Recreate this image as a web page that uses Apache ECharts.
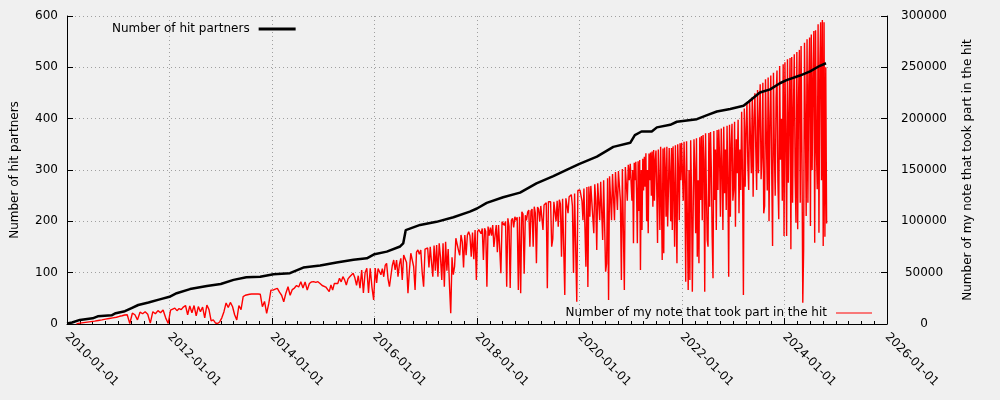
<!DOCTYPE html>
<html>
<head>
<meta charset="utf-8">
<script src="https://cdn.jsdelivr.net/npm/echarts@6/dist/echarts.min.js"></script>
<style>
html,body{margin:0;padding:0;background:#f0f0f0;}
#chart{width:1000px;height:400px;}
</style>
</head>
<body>
<div id="chart"></div>
<script>
// ---- data ----
const xTickYears = [2010, 2012, 2014, 2016, 2018, 2020, 2022, 2024, 2026];
const leftName = 'Number of hit partners';
const rightName = 'Number of my note that took part in the hit';

// cumulative hit partners (decimal year, value)
const partnerYears = [2010.0, 2010.1, 2010.25, 2010.5, 2010.6, 2010.87, 2010.95, 2011.13, 2011.26, 2011.39, 2011.59, 2011.81, 2012.0, 2012.14, 2012.4, 2012.73, 2013.0, 2013.25, 2013.5, 2013.77, 2014.03, 2014.35, 2014.61, 2014.94, 2015.26, 2015.59, 2015.85, 2016.0, 2016.24, 2016.5, 2016.56, 2016.61, 2016.64, 2016.89, 2017.21, 2017.54, 2017.86, 2018.0, 2018.19, 2018.51, 2018.84, 2019.16, 2019.49, 2019.81, 2020.0, 2020.34, 2020.66, 2020.99, 2021.08, 2021.21, 2021.41, 2021.51, 2021.77, 2021.9, 2022.29, 2022.49, 2022.68, 2022.94, 2023.2, 2023.3, 2023.52, 2023.72, 2023.91, 2024.04, 2024.3, 2024.5, 2024.69, 2024.81];
const partnerValues = [1, 3, 8, 11, 15, 17, 21, 25, 31, 37, 42, 48, 53, 60, 68, 74, 78, 86, 91, 92, 97, 99, 110, 114, 120, 125, 128, 136, 141, 151, 157, 183, 186, 193, 199, 208, 219, 225, 236, 247, 256, 274, 288, 303, 312, 326, 345, 353, 368, 375, 375, 383, 388, 394, 399, 407, 414, 419, 425, 433, 451, 457, 469, 475, 484, 492, 503, 508];

// notes that took part in the hit, per year (samples spread over each period)
const red2010 = [300, 800, 1300, 1800, 2300, 2800, 3400, 4000, 4700, 5400, 6000, 6600];
const red2011 = [7500, 8000, 8800, 9000, 500, 10500, 9000, 4000, 11500, 10000, 12000, 9500, 800, 12000, 10000, 13000, 11000, 13600, 6000, 500];
const red2012 = [13500, 14500, 15500, 13000, 15000, 14000, 16500, 18000, 9000, 17500, 11000, 18000, 8000, 17000, 12000, 16500, 6000, 18500, 14000, 3000, 4000, 1000, 500, 2000];
const red2013 = [6000, 12000, 20500, 16000, 21000, 17000, 9000, 4000, 18000, 14000, 26600, 28000, 28500, 29000, 29200, 29200, 29200, 29200, 29000, 16800, 22000, 10400, 20000, 33000];
const red2014 = [33000, 34000, 34700, 31000, 28000, 21700, 30000, 36300, 28000, 33500, 35000, 37500, 36000, 41200, 35000, 41000, 33000, 39500, 41000, 41200, 40500, 41200, 39500, 37500];
const red2015 = [38000, 36000, 34800, 31500, 38000, 33000, 39500, 41000, 39500, 44500, 41000, 46100, 43000, 38000, 44000, 46000, 47500, 49400, 45000, 37600, 47000, 34800, 52600, 30200, 50000, 54200, 30200, 54200, 36000, 23400];
const red2016 = [54500, 40000, 54000, 54500, 48000, 54000, 46000, 57000, 59100, 44000, 36300, 38000, 57000, 62300, 52600, 62300, 46100, 58000, 64000, 42900, 67200, 65500, 60000, 29900, 52000, 68900, 67000, 56000, 33100, 70000, 72100, 68000, 72000, 50000, 36300, 73000];
const red2017 = [73000, 74000, 55000, 75300, 60000, 46100, 76500, 52000, 77000, 46100, 78600, 65000, 43000, 78600, 36300, 80200, 52000, 73000, 38000, 10400, 65000, 48000, 56000, 83500, 85000, 72000, 67000, 86700, 80000, 55000, 86700, 67000, 86700, 89900, 86000, 65500, 89000, 63000, 91600, 42900];
const red2018 = [90000, 92000, 93200, 88000, 93000, 62300, 93200, 90000, 36300, 95000, 86000, 94000, 86000, 96400, 75000, 86000, 96400, 70000, 96400, 98000, 49400, 99700, 101000, 96000, 100000, 36300, 103000, 95000, 35000, 101000, 103000, 94000, 104500, 101000, 104000, 33100, 104500, 29900, 109400, 107000, 49000, 106000, 101000, 109000];
const red2019 = [111000, 75300, 110000, 112000, 75300, 114300, 108000, 59100, 114000, 112000, 100000, 115000, 115900, 91600, 116000, 117000, 118000, 34800, 119100, 118000, 119100, 75300, 83000, 119000, 120000, 100000, 120000, 94800, 121000, 117000, 65500, 122000, 122000, 28200, 122500, 121000, 108000, 124000, 125600, 126000, 115000, 49700, 127000, 128500, 21700, 130000, 129000];
const red2020 = [130500, 131000, 120000, 101000, 132000, 133000, 55800, 133500, 36000, 134000, 104500, 134500, 135000, 135400, 88500, 136000, 120000, 72000, 137000, 137500, 101000, 138600, 138000, 81800, 140000, 141000, 51000, 59100, 142000, 23400, 144000, 145000, 101000, 146000, 146800, 101000, 148000, 147000, 111000, 149000, 150000, 120000, 42900, 151000, 152000, 33100, 153000, 154000, 120000, 155000, 140000, 156000];
const red2021 = [156500, 120000, 150000, 78600, 157000, 140000, 158000, 127300, 78600, 158500, 110000, 159700, 52600, 150000, 91600, 161000, 130000, 163000, 133700, 166300, 100000, 150000, 88300, 166000, 140000, 167000, 125000, 168000, 114300, 169500, 120000, 160000, 169000, 130000, 79000, 170000, 140000, 91600, 172700, 120000, 62300, 171000, 68900, 172000, 150000, 104500, 172700, 95000, 130000, 171500, 145000, 100000, 171400, 91600, 173000, 130000, 75300, 174000, 110000, 59100, 175000, 150000, 101000, 176000, 140000, 176500];
const red2022 = [176500, 120000, 177600, 140000, 41200, 178000, 100000, 33100, 150000, 42900, 179000, 130000, 31500, 29900, 180000, 150000, 88300, 181000, 65500, 140000, 59100, 182000, 120800, 183000, 101000, 184000, 160000, 31500, 185700, 130000, 81800, 75300, 186000, 114300, 187000, 150000, 85000, 44500, 188000, 120800, 170000, 91600, 189000, 130500, 189500, 160000, 104500, 190500, 150000, 91600, 192200, 127300, 170000, 111000, 193000, 140000, 46100, 194000, 104500, 175000, 195000, 120000];
const red2023 = [130500, 197000, 94800, 180000, 146800, 199000, 107800, 170000, 130500, 206800, 143500, 28200, 210000, 133700, 190000, 215000, 156500, 130500, 218000, 180000, 146800, 221000, 124000, 200000, 224700, 170000, 130500, 228000, 146800, 200000, 233500, 141000, 163000, 235000, 107800, 115000, 238300, 180000, 130000, 240000, 100000, 200000, 242000, 150000, 76000, 244800, 170000, 125000, 220000, 247000, 140000, 102000, 251300, 160000, 200000, 120000, 253000, 85700];
const red2024 = [255000, 180000, 85700, 257800, 137600, 200000, 259000, 72800, 260000, 118100, 210000, 262700, 144000, 98700, 265000, 92200, 220000, 267000, 118100, 270800, 166900, 20800, 72800, 274000, 200000, 105200, 277300, 118100, 230000, 279000, 95400, 282000, 150000, 240000, 285400, 79200, 286000, 170100, 131200, 291900, 88900, 250000, 294000, 140000, 296100, 76000, 294000, 85000, 250000, 98000];
const redPeriods = [
  [2010.15, 2011, red2010], [2011, 2012, red2011], [2012, 2013, red2012], [2013, 2014, red2013],
  [2014, 2015, red2014], [2015, 2016, red2015], [2016, 2017, red2016], [2017, 2018, red2017],
  [2018, 2019, red2018], [2019, 2020, red2019], [2020, 2021, red2020], [2021, 2022, red2021],
  [2022, 2023, red2022], [2023, 2024, red2023], [2024, 2024.83, red2024]
];

// ---- build series data ----
const partnerData = partnerYears.map((y, i) => [y, partnerValues[i]]);
const noteData = [];
redPeriods.forEach(([s, e, vals]) => {
  const step = (e - s) / vals.length;
  vals.forEach((v, i) => noteData.push([s + (i + 0.5) * step, v]));
});

const FONT = 'DejaVu Sans';
const chart = echarts.init(document.getElementById('chart'), null, {renderer: 'canvas'});
chart.setOption({
  backgroundColor: '#f0f0f0',
  animation: false,
  textStyle: {fontFamily: FONT, color: '#000'},
  grid: {left: 67, right: 113, top: 16, bottom: 76, containLabel: false},
  legend: [
    {
      data: [{name: leftName, icon: 'rect'}],
      left: 112, top: 23, padding: 0, align: 'right',
      itemWidth: 37, itemHeight: 3,
      textStyle: {fontFamily: FONT, fontSize: 12, color: '#000', padding: [0, 4, 0, 0]},
      selectedMode: false
    },
    {
      data: [{name: rightName, icon: 'rect'}],
      right: 128, top: 307, padding: 0, align: 'right',
      itemWidth: 36, itemHeight: 1,
      textStyle: {fontFamily: FONT, fontSize: 12, color: '#000', padding: [0, 4, 0, 0]},
      selectedMode: false
    }
  ],
  xAxis: {
    type: 'value', min: xTickYears[0], max: xTickYears[xTickYears.length - 1], interval: 2,
    axisLine: {show: true, onZero: false, lineStyle: {color: '#000', width: 1}},
    axisTick: {show: true, inside: true, length: 6, lineStyle: {color: '#000'}},
    minorTick: {show: true, splitNumber: 8, length: 3, lineStyle: {color: '#000'}},
    splitLine: {show: true, lineStyle: {color: '#a0a0a0', type: [1, 3], width: 1}},
    axisLabel: {rotate: -45, margin: 11, fontSize: 12, fontFamily: FONT, color: '#000',
      formatter: v => v + '-01-01'}
  },
  yAxis: [
    {
      type: 'value', min: 0, max: 600, interval: 100, position: 'left',
      name: leftName, nameLocation: 'middle', nameGap: 46, nameRotate: 90,
      nameTextStyle: {fontFamily: FONT, fontSize: 12, color: '#000'},
      axisLine: {show: true, lineStyle: {color: '#000', width: 1}},
      axisTick: {show: true, inside: true, length: 6, lineStyle: {color: '#000'}},
      splitLine: {show: true, lineStyle: {color: '#a0a0a0', type: [1, 3], width: 1}},
      axisLabel: {margin: 9, fontSize: 12, fontFamily: FONT, color: '#000'}
    },
    {
      type: 'value', min: 0, max: 300000, interval: 50000, position: 'right',
      name: rightName, nameLocation: 'middle', nameGap: 75, nameRotate: 90,
      nameTextStyle: {fontFamily: FONT, fontSize: 12, color: '#000'},
      axisLine: {show: true, lineStyle: {color: '#000', width: 1}},
      axisTick: {show: true, inside: true, length: 6, lineStyle: {color: '#000'}},
      splitLine: {show: false},
      axisLabel: {margin: 37, align: 'center', fontSize: 12, fontFamily: FONT, color: '#000',
        formatter: v => String(v)}
    }
  ],
  series: [
    {
      name: rightName, type: 'line', yAxisIndex: 1, data: noteData,
      showSymbol: false, symbol: 'none', sampling: null,
      lineStyle: {color: '#ff0000', width: 1.4}, itemStyle: {color: '#ff0000'}
    },
    {
      name: leftName, type: 'line', yAxisIndex: 0, data: partnerData,
      showSymbol: false, symbol: 'none',
      lineStyle: {color: '#000', width: 2.5}, itemStyle: {color: '#000'}
    }
  ]
});
</script>
</body>
</html>
